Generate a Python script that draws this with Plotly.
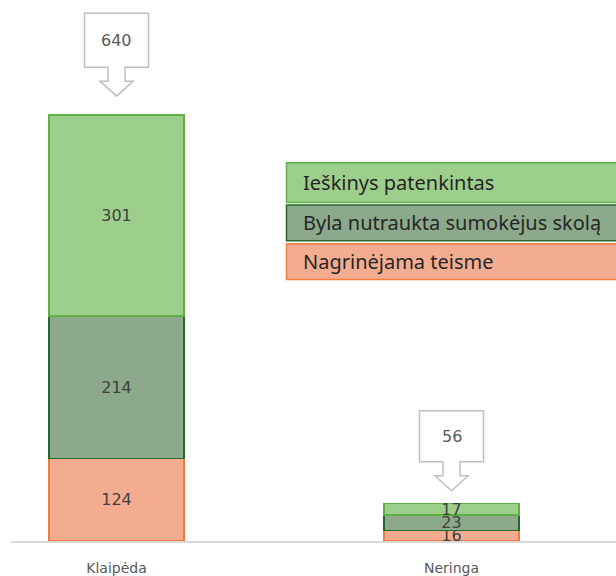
import plotly.graph_objects as go

categories = ["Klaipėda", "Neringa"]
nagrinejama = [124, 16]
nutraukta = [214, 23]
patenkintas = [301, 17]
totals = [640, 56]
series_names = ["Ieškinys patenkintas", "Byla nutraukta sumokėjus skolą", "Nagrinėjama teisme"]

W, H = 616, 576
ML, MR, MT, MB = 11, 0, 2, 31
PW, PH = W - ML - MR, H - MT - MB
YMAX = 808.8
XR = [-0.315, -0.315 + PW / 335.0]

fills = {"green": "#9dcf8c", "dark": "#8caa8b", "orange": "#f4ac91"}
lines = {"green": "#62b044", "dark": "#226b2c", "orange": "#ee7d3f"}

x = list(range(len(categories)))
fig = go.Figure()
for vals, key, name in [(nagrinejama, "orange", series_names[2]),
                        (nutraukta, "dark", series_names[1]),
                        (patenkintas, "green", series_names[0])]:
    fig.add_trace(go.Bar(
        x=x, y=vals, name=name, width=0.403,
        marker=dict(color=fills[key], line=dict(color=lines[key], width=1.5)),
        text=vals, textposition="inside", insidetextanchor="middle",
        textangle=0, constraintext="none",
        textfont=dict(family="DejaVu Sans", size=16, color="#404040"),
        showlegend=False, hoverinfo="skip",
    ))

# callouts
gaps = [19, 13]
box_h = [54, 51]
shapes = []
annotations = []
for i, tot in enumerate(totals):
    g = gaps[i]
    bh = box_h[i]
    hw, headw, stemw = 32, 16.5, 8.5
    p = (f"M 0,{g} L {-headw},{g+15} L {-stemw},{g+15} L {-stemw},{g+29} "
         f"L {-hw},{g+29} L {-hw},{g+29+bh} L {hw},{g+29+bh} L {hw},{g+29} "
         f"L {stemw},{g+29} L {stemw},{g+15} L {headw},{g+15} Z")
    top = nagrinejama[i] + nutraukta[i] + patenkintas[i]
    shapes.append(dict(type="path", xref="x", yref="y", xsizemode="pixel", ysizemode="pixel",
                       xanchor=x[i], yanchor=top, path=p,
                       line=dict(color="#bfbfbf", width=1.5), fillcolor="white", layer="above"))
    annotations.append(dict(x=x[i], y=top, xref="x", yref="y",
                            text=str(tot), showarrow=False, yshift=g + 29 + bh / 2,
                            font=dict(family="DejaVu Sans", size=16, color="#595959")))

# legend boxes (pixel positions -> paper)
def px(xp):
    return (xp - ML) / PW

def py(yp):
    return (H - MB - yp) / PH

leg_rows = [(164, 204, "green"), (206.5, 242.5, "dark"), (245.5, 281.5, "orange")]
for (y0, y1, key), name in zip(leg_rows, series_names):
    shapes.append(dict(type="rect", xref="paper", yref="paper", x0=px(286.5), x1=px(640),
                       y0=py(y1), y1=py(y0), fillcolor=fills[key],
                       line=dict(color=lines[key], width=1.5), layer="above"))
    annotations.append(dict(xref="paper", yref="paper", x=px(301), y=py((y0 + y1) / 2),
                            xanchor="left", yanchor="middle", text=name, showarrow=False,
                            font=dict(family="Noto Sans", size=20, color="#262626")))

fig.update_layout(
    barmode="stack",
    width=W, height=H,
    margin=dict(l=ML, r=MR, t=MT, b=MB),
    paper_bgcolor="white", plot_bgcolor="white",
    uniformtext=dict(minsize=16, mode="show"),
    xaxis=dict(range=XR, tickvals=x, ticktext=categories, showgrid=False, zeroline=False,
               showline=True, linecolor="#d9d9d9", linewidth=1.5, ticks="",
               ticklabelstandoff=13,
               tickfont=dict(family="DejaVu Sans", size=14, color="#595959")),
    yaxis=dict(range=[0, YMAX], visible=False, showgrid=False, zeroline=False),
    shapes=shapes, annotations=annotations, showlegend=False,
)
fig.write_html(
    "out.html", config={"displayModeBar": False},
    post_script=("document.documentElement.style.margin='0';"
                 "document.body.style.margin='0';document.body.style.padding='0';"
                 "document.body.style.overflow='hidden';window.scrollTo(0,0);"),
)
